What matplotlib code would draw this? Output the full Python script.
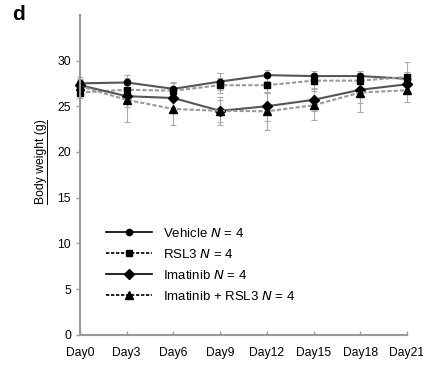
import matplotlib.pyplot as plt
from matplotlib.lines import Line2D

plt.rcParams['font.family'] = ['Liberation Sans', 'DejaVu Sans']

days = [0, 3, 6, 9, 12, 15, 18, 21]
day_labels = ['Day0', 'Day3', 'Day6', 'Day9', 'Day12', 'Day15', 'Day18', 'Day21']

vehicle = [27.5, 27.6, 26.9, 27.7, 28.4, 28.3, 28.3, 28.0]
vehicle_err = [0.7, 0.8, 0.7, 0.9, 0.6, 0.6, 0.6, 0.7]
rsl3 = [26.5, 26.8, 26.7, 27.3, 27.3, 27.8, 27.8, 28.2]
rsl3_err = [0.6, 0.9, 0.8, 0.8, 0.9, 0.8, 0.8, 1.6]
imatinib = [27.3, 26.1, 25.9, 24.5, 25.0, 25.7, 26.8, 27.4]
imatinib_err = [0.6, 1.2, 1.0, 1.2, 1.6, 1.2, 1.4, 0.9]
combo = [27.2, 25.7, 24.7, 24.5, 24.45, 25.1, 26.5, 26.75]
combo_err = [0.8, 2.4, 1.8, 1.5, 2.0, 1.6, 2.1, 1.3]

labels = ['Vehicle $\\it{N}$ = 4', 'RSL3 $\\it{N}$ = 4',
          'Imatinib $\\it{N}$ = 4', 'Imatinib + RSL3 $\\it{N}$ = 4']

fig = plt.figure(figsize=(4.23, 3.70), dpi=100)
ax = fig.add_axes([0.189, 0.095, 0.773, 0.865])

series = [
    (vehicle, vehicle_err, 'o', 4.5, '-', '#555555'),
    (rsl3, rsl3_err, 's', 5, (0, (2, 1)), '#999999'),
    (imatinib, imatinib_err, 'D', 5, '-', '#555555'),
    (combo, combo_err, '^', 5.5, (0, (2, 1)), '#999999'),
]

for vals, err, mk, ms, ls, col in series:
    ax.errorbar(days, vals, yerr=err, fmt='none', ecolor='#aaaaaa',
                elinewidth=0.8, capsize=2.5, capthick=0.8, zorder=1,
                clip_on=False)
    ax.plot(days, vals, linestyle=ls, color=col, linewidth=1.5,
            marker=mk, markersize=ms, markerfacecolor='black',
            markeredgecolor='black', zorder=2, clip_on=False)

handles = [Line2D([], [], color='black', linestyle=ls, linewidth=1.2,
                  marker=mk, markersize=ms, markerfacecolor='black')
           for _, _, mk, ms, ls, _ in series]
ax.legend(handles, labels, loc='upper left', bbox_to_anchor=(0.063, 0.355),
          frameon=False, fontsize=9.5, handlelength=3.5, labelspacing=0.62,
          handletextpad=0.8, borderaxespad=0)

ax.set_xlim(0, 21)
ax.set_ylim(0, 35)
ax.set_xticks(days)
ax.set_xticklabels(day_labels)
ax.set_yticks([0, 5, 10, 15, 20, 25, 30])
ax.tick_params(axis='both', labelsize=8.7, colors='#999999', labelcolor='black',
               length=3, width=1)
ax.tick_params(axis='x', direction='in', pad=9)

for s in ['top', 'right']:
    ax.spines[s].set_visible(False)
for s in ['left', 'bottom']:
    ax.spines[s].set_color('#999999')
    ax.spines[s].set_linewidth(1.5)

yl = fig.text(0.097, 0.562, 'Body weight (g)', rotation=90, fontsize=8.7,
              ha='center', va='center')
fig.canvas.draw()
bb = yl.get_window_extent().transformed(fig.transFigure.inverted())
fig.add_artist(Line2D([bb.x1 + 0.001, bb.x1 + 0.001], [bb.y0, bb.y1],
                      color='black', linewidth=0.7))

fig.text(0.028, 0.962, 'd', fontsize=15, fontweight='bold', va='center')

fig.savefig('out.png', dpi=100)
